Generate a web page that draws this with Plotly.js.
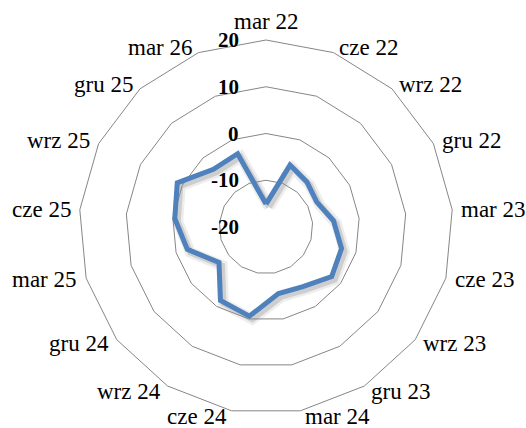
<!DOCTYPE html>
<html>
<head>
<meta charset="utf-8">
<script src="https://cdn.plot.ly/plotly-3.0.1.min.js"></script>
<style>html,body{margin:0;padding:0;background:#fff;}#chart{width:526px;height:428px;}</style>
</head>
<body>
<div id="chart"></div>
<script>
const categories = ["mar 22","cze 22","wrz 22","gru 22","mar 23","cze 23","wrz 23","gru 23","mar 24","cze 24","wrz 24","gru 24","mar 25","cze 25","wrz 25","gru 25","mar 26"];
const values = [-15.1,-5.8,-7.0,-7.9,-5.5,-3.2,-2.4,-5.0,-5.5,-0.6,-1.5,-7.4,-2.5,-0.4,1.2,-3.3,-3.2];
const radialTicks = [-20,-10,0,10,20];

const W = 526, H = 428;
const RMIN = -20, RMAX = 20;
const SERIF = 'Liberation Serif, Times New Roman, serif';
const theta = categories.concat([categories[0]]);
const r = values.concat([values[0]]);

const mainDom = {x:[79/W, 453/W], y:[14/H, 388/H]};
const shadowDom = {x:[82/W, 456/W], y:[11/H, 385/H]};

const hiddenAngular = {type:'category', categoryarray:categories, direction:'clockwise', rotation:90,
  showgrid:false, showline:false, showticklabels:false, ticks:''};
const hiddenRadial = {range:[RMIN,RMAX], showgrid:false, showline:false, showticklabels:false, ticks:''};

const data = [
  {type:'scatterpolar', subplot:'polar', mode:'lines', theta: theta, r: r,
   line:{color:'rgba(0,0,0,0.07)', width:11}, hoverinfo:'skip', showlegend:false},
  {type:'scatterpolar', subplot:'polar', mode:'lines', theta: theta, r: r,
   line:{color:'rgba(0,0,0,0.13)', width:6}, hoverinfo:'skip', showlegend:false},
  {type:'scatterpolar', subplot:'polar2', mode:'lines', theta: theta, r: r,
   line:{color:'#4F81BD', width:5}, showlegend:false}
];

const layout = {
  width:W, height:H,
  margin:{l:0, r:0, t:0, b:0},
  paper_bgcolor:'#fff',
  showlegend:false,
  font:{family:SERIF, color:'#000'},
  polar:{
    bgcolor:'rgba(0,0,0,0)', gridshape:'linear', domain:shadowDom,
    angularaxis:hiddenAngular, radialaxis:hiddenRadial
  },
  polar2:{
    bgcolor:'rgba(0,0,0,0)',
    gridshape:'linear',
    domain:mainDom,
    angularaxis:{
      type:'category', categoryarray:categories, direction:'clockwise', rotation:90,
      showgrid:false, showline:true, linecolor:'#868686', linewidth:1,
      ticks:'', showticklabels:false
    },
    radialaxis:{
      range:[RMIN,RMAX], tickvals:radialTicks,
      angle:90, showline:false, showticklabels:false, ticks:'',
      gridcolor:'#868686', gridwidth:1
    }
  }
};

const gd = document.getElementById('chart');
Plotly.newPlot(gd, data, layout, {staticPlot:true, displayModeBar:false}).then(function(){
  const fl = gd._fullLayout;
  const sp = fl.polar2 && fl.polar2._subplot;
  let cx, cy, R;
  if (sp && isFinite(sp.cx) && isFinite(sp.radius)) { cx = sp.cx; cy = sp.cy; R = sp.radius; }
  else {
    cx = (mainDom.x[0]+mainDom.x[1])/2*W; cy = H - (mainDom.y[0]+mainDom.y[1])/2*H;
    R = (mainDom.y[1]-mainDom.y[0])*H/2;
  }
  const n = categories.length;
  const anns = [];
  categories.forEach(function(c, k){
    const a = k*2*Math.PI/n;
    const s = Math.sin(a), co = Math.cos(a);
    const vx = cx + R*s, vy = cy - R*co;
    let x, y, xa;
    if (Math.abs(s) < 0.1) { x = vx; y = vy - 19; xa = 'center'; }
    else { x = vx + (s>0?1:-1)*(1.5 + 5.5*Math.abs(s)); y = vy - 6*co; xa = s>0 ? 'left':'right'; }
    anns.push({xref:'paper', yref:'paper', x:x/W, y:1-y/H, xanchor:xa, yanchor:'middle',
      text:c, showarrow:false, font:{size:23, family:SERIF, color:'#000'}});
  });
  radialTicks.forEach(function(v){
    const rr = (v-RMIN)/(RMAX-RMIN)*R;
    anns.push({xref:'paper', yref:'paper', x:(cx-25)/W, y:1-(cy-rr)/H, xanchor:'right', yanchor:'middle',
      text:'<b>'+v+'</b>', showarrow:false, font:{size:21, family:SERIF, color:'#000'}});
  });
  return Plotly.relayout(gd, {annotations: anns});
});
</script>
</body>
</html>
